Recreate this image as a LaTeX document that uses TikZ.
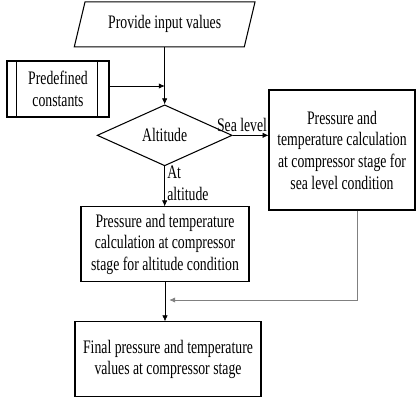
\documentclass[tikz,border=0pt]{standalone}
\usepackage{fontspec}
\setmainfont{Liberation Serif}[FakeStretch=0.72]
\usetikzlibrary{shapes.geometric,arrows.meta}
\tikzset{
  box/.style={draw, rectangle, line width=0.9pt, align=center, inner sep=2pt},
  flow/.style={-{Latex[length=5pt,width=4.5pt]}, line width=0.5pt},
}
\begin{document}
\begin{tikzpicture}[font=\fontsize{16.3}{18.5}\selectfont]
        \useasboundingbox (0,0) rectangle (12.54,12);
        % Input
        \node[draw, trapezium, trapezium left angle=72, trapezium right angle=108, trapezium stretches=true, line width=0.9pt, minimum width=5.43cm, minimum height=1.35cm] (input) at (4.94,11.27) {Provide input values};
        
        % Predefined constants
        \node[box, minimum width=3.06cm, minimum height=1.68cm] (predef) at (1.74,9.33) {Predefined\\constants};
        \draw[line width=0.6pt] ([xshift=0.3cm]predef.north west) -- ([xshift=0.3cm]predef.south west);
        \draw[line width=0.6pt] ([xshift=-0.36cm]predef.north east) -- ([xshift=-0.36cm]predef.south east);
        
        % Decision
        \node[draw, diamond, line width=0.9pt, inner sep=0pt, minimum width=4.05cm, minimum height=1.83cm] (alt) at (4.94,7.94) {Altitude};
        
        % Sea level branch
        \node[box, minimum width=4.38cm, minimum height=3.6cm] (sea) at (10.26,7.5) {Pressure and\\temperature calculation\\at compressor stage for\\sea level condition};
        
        % Altitude branch
        \node[box, minimum width=5.04cm, minimum height=2.25cm] (altc) at (4.95,4.67) {Pressure and temperature\\calculation at compressor\\stage for altitude condition};
        
        % Result
        \node[box, minimum width=5.58cm, minimum height=2.25cm] (final) at (5.04,1.22) {Final pressure and temperature\\values at compressor stage};
        
        % Connectors
        \coordinate (mid) at (4.94,9.42);
        \draw[flow] (input.south -| alt.north) -- (alt.north);
        \draw[flow] (predef.east |- mid) -- (mid);
        \draw[flow] (alt.east) -- node[anchor=south east, pos=1, inner sep=1pt, yshift=2pt] {Sea level} (alt.east -| sea.west);
        \draw[flow] (alt.south) -- node[right, align=left, pos=0.42, inner sep=2pt] {At\\altitude} (alt.south |- altc.north);
        \draw[flow] (altc.south) -- (altc.south |- final.north);
        \coordinate (merge) at (5.08,3.0);
        \draw[flow, gray] ([xshift=0.45cm]sea.south) |- (merge);
    \end{tikzpicture}
\end{document}
